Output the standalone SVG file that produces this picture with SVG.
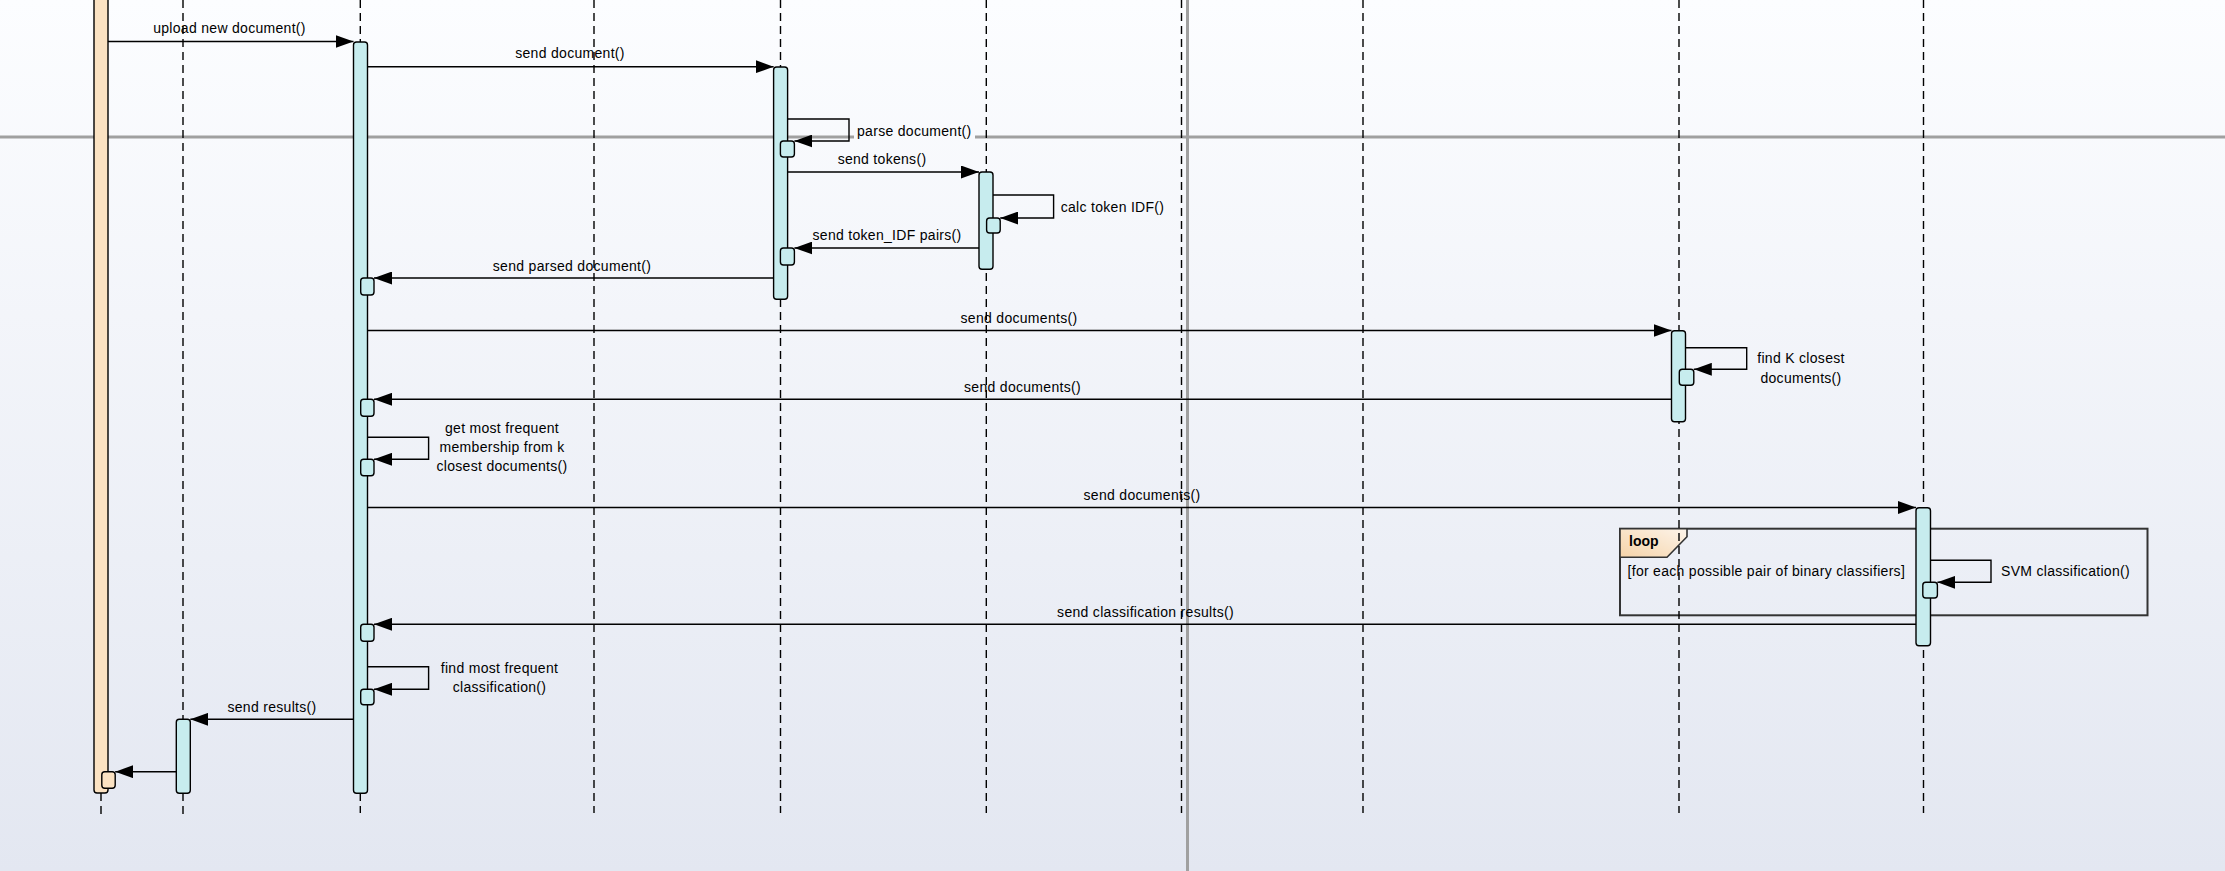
<svg xmlns="http://www.w3.org/2000/svg" width="2225" height="871" viewBox="0 0 2225 871">
<defs>
<linearGradient id="bg" gradientUnits="userSpaceOnUse" x1="0" y1="0" x2="0" y2="871"><stop offset="0" stop-color="#fcfdff"/><stop offset="1" stop-color="#e3e7f1"/></linearGradient>
<linearGradient id="tab" x1="0" y1="1" x2="1" y2="0"><stop offset="0" stop-color="#f5d3a8"/><stop offset="1" stop-color="#fdf4ea"/></linearGradient>
<marker id="arr" markerUnits="userSpaceOnUse" markerWidth="18" markerHeight="13" refX="18" refY="6.5" orient="auto" viewBox="0 0 18 13"><path d="M0,0 L18,6.5 L0,13 z" fill="#000"/></marker>
<style>
.ll{stroke:#000;stroke-width:1.4;stroke-dasharray:8 5;fill:none}
.act{fill:#c7ecee;stroke:#000;stroke-width:1.4}
.acto{fill:#fbe2c2;stroke:#000;stroke-width:1.4}
.msg{stroke:#000;stroke-width:1.4;fill:none;marker-end:url(#arr)}
.pb{stroke:#a0a0a0;stroke-width:3}
.lbl{font-family:"Liberation Sans",Arial,sans-serif;font-size:14px;letter-spacing:0.3px;fill:#000}
.mid{text-anchor:middle}
.frame{fill:none;stroke:#333;stroke-width:2}
</style>
</defs>
<rect x="0" y="0" width="2225" height="871" fill="url(#bg)"/>
<g id="page-breaks">
<line class="pb" x1="0" y1="137" x2="2225" y2="137"/>
<line class="pb" x1="1187.5" y1="0" x2="1187.5" y2="871"/>
</g>
<g id="loop-frame">
<rect class="frame" x="1620" y="528.7" width="527.5" height="86.6"/>
<path d="M1620,528.7 H1687 V536.7 L1667,557.3 H1620 Z" fill="url(#tab)" stroke="#333" stroke-width="1.6"/>
<text class="lbl" x="1629" y="545.7" style="font-weight:bold;letter-spacing:0">loop</text>
<text class="lbl" x="1627.5" y="576">[for each possible pair of binary classifiers]</text>
</g>
<g id="ll1">
<line class="ll" x1="101" y1="0" x2="101" y2="817"/>
<rect class="acto" x="94" y="-10" width="14" height="803" rx="3"/>
<rect class="acto" x="101.8" y="771.7" width="13.4" height="16.6" rx="3"/>
</g>
<g id="ll2">
<line class="ll" x1="183" y1="0" x2="183" y2="817"/>
<rect class="act" x="176.3" y="719.3" width="14" height="74" rx="3"/>
</g>
<g id="ll3">
<line class="ll" x1="360.3" y1="0" x2="360.3" y2="813"/>
<rect class="act" x="353.5" y="42" width="14" height="751.3" rx="3"/>
<rect class="act" x="360.7" y="278" width="13.3" height="17" rx="3"/>
<rect class="act" x="360.7" y="399.3" width="13.3" height="17" rx="3"/>
<rect class="act" x="360.7" y="459.3" width="13.3" height="16.5" rx="3"/>
<rect class="act" x="360.7" y="624.3" width="13.3" height="17" rx="3"/>
<rect class="act" x="360.7" y="689.3" width="13.3" height="15.5" rx="3"/>
</g>
<g id="ll4">
<line class="ll" x1="594" y1="0" x2="594" y2="813"/>
</g>
<g id="ll5">
<line class="ll" x1="780.5" y1="0" x2="780.5" y2="813"/>
<rect class="act" x="773.6" y="67" width="14" height="232.3" rx="3"/>
<rect class="act" x="780.4" y="141" width="14" height="16" rx="3"/>
<rect class="act" x="780.4" y="248" width="14" height="17" rx="3"/>
</g>
<g id="ll6">
<line class="ll" x1="986.3" y1="0" x2="986.3" y2="813"/>
<rect class="act" x="979" y="172" width="14" height="97.3" rx="3"/>
<rect class="act" x="986.6" y="218" width="13.6" height="15" rx="3"/>
</g>
<g id="ll7">
<line class="ll" x1="1181.5" y1="0" x2="1181.5" y2="813"/>
</g>
<g id="ll8">
<line class="ll" x1="1363" y1="0" x2="1363" y2="813"/>
</g>
<g id="ll9">
<line class="ll" x1="1679" y1="0" x2="1679" y2="813"/>
<rect class="act" x="1671.5" y="330.7" width="14" height="91" rx="3"/>
<rect class="act" x="1679.3" y="369.3" width="14.5" height="16" rx="3"/>
</g>
<g id="ll10">
<line class="ll" x1="1923.5" y1="0" x2="1923.5" y2="813"/>
<rect class="act" x="1916" y="507.7" width="14.5" height="138" rx="3"/>
<rect class="act" x="1922.8" y="582.3" width="14.6" height="15.7" rx="3"/>
</g>
<g id="connectors">
<g id="m1"><path class="msg" d="M108,41.5 H353.5"/><text class="lbl mid" x="229.5" y="33">upload new document()</text></g>
<g id="m2"><path class="msg" d="M367.5,66.7 H773.6"/><text class="lbl mid" x="570" y="58">send document()</text></g>
<g id="m3"><path class="msg" d="M787.6,119 H849 V141 H794.4"/><rect x="854" y="123" width="121" height="17" fill="url(#bg)"/><text class="lbl" x="857" y="136">parse document()</text></g>
<g id="m4"><path class="msg" d="M787.6,172 H979"/><text class="lbl mid" x="882" y="164">send tokens()</text></g>
<g id="m5"><path class="msg" d="M993,195 H1053.6 V218 H1000.2"/><text class="lbl" x="1060.7" y="212">calc token IDF()</text></g>
<g id="m6"><path class="msg" d="M979,248 H794.4"/><text class="lbl mid" x="887" y="240">send token_IDF pairs()</text></g>
<g id="m7"><path class="msg" d="M773.6,278 H374"/><text class="lbl mid" x="572" y="271">send parsed document()</text></g>
<g id="m8"><path class="msg" d="M367.5,330.5 H1671.5"/><text class="lbl mid" x="1019" y="322.7">send documents()</text></g>
<g id="m9"><path class="msg" d="M1685.5,347.7 H1746.7 V369.3 H1693.8"/><text class="lbl mid" x="1801" y="363.3">find K closest<tspan x="1801" y="382.7">documents()</tspan></text></g>
<g id="m10"><path class="msg" d="M1671.5,399.3 H374"/><text class="lbl mid" x="1022.5" y="391.7">send documents()</text></g>
<g id="m11"><path class="msg" d="M367.5,437.3 H428.6 V459.3 H374"/><text class="lbl mid" x="502" y="432.7">get most frequent<tspan x="502" y="451.7">membership from k</tspan><tspan x="502" y="471.3">closest documents()</tspan></text></g>
<g id="m12"><path class="msg" d="M367.5,507.5 H1916"/><text class="lbl mid" x="1142" y="500">send documents()</text></g>
<g id="m13"><path class="msg" d="M1930.5,560.3 H1991 V582.3 H1937.4"/><text class="lbl" x="2001" y="576">SVM classification()</text></g>
<g id="m14"><path class="msg" d="M1916,624.3 H374"/><text class="lbl mid" x="1145.5" y="616.7">send classification results()</text></g>
<g id="m15"><path class="msg" d="M367.5,666.7 H428.6 V689.3 H374"/><text class="lbl mid" x="499.5" y="672.7">find most frequent<tspan x="499.5" y="691.7">classification()</tspan></text></g>
<g id="m16"><path class="msg" d="M353.5,719.3 H190.3"/><text class="lbl mid" x="272" y="711.7">send results()</text></g>
<g id="m17"><path class="msg" d="M176.3,771.7 H115.2"/></g>
</g>
</svg>
